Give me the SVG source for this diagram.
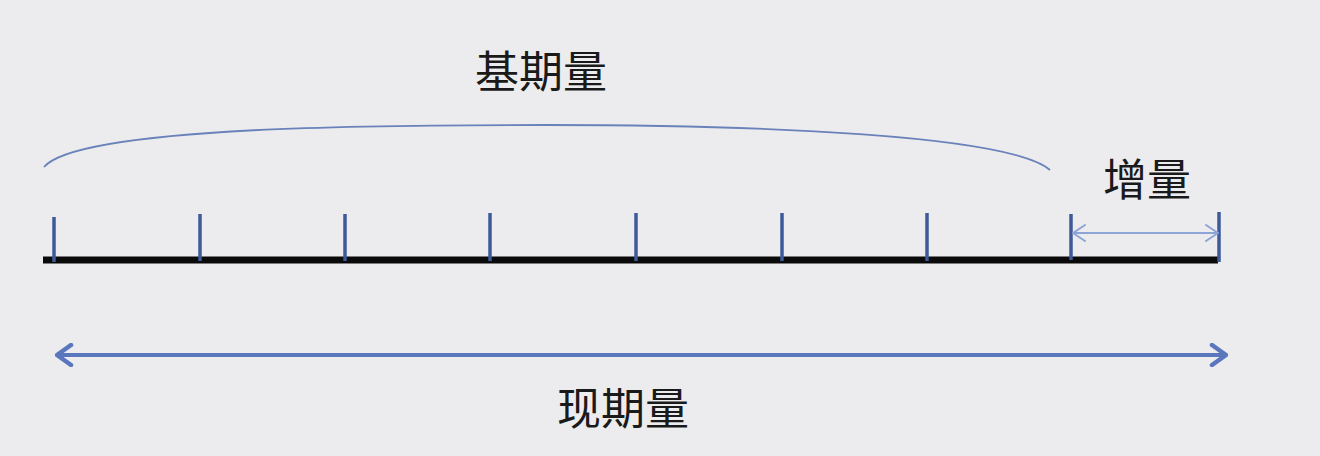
<svg xmlns="http://www.w3.org/2000/svg" width="1320" height="456" viewBox="0 0 1320 456">
<defs>
<style>
.lbl{font-family:"Noto Sans CJK SC","Noto Sans",sans-serif;font-size:44px;fill:#1a1a1a;text-anchor:middle}
.tick{stroke:#3d5a9a;stroke-width:3.5;stroke-linecap:butt}
</style>
<marker id="chev" viewBox="0 0 20 24" refX="18" refY="12" markerWidth="20" markerHeight="24" markerUnits="userSpaceOnUse" orient="auto-start-reverse">
<path d="M4,2 L18,12 L4,22" fill="none" stroke="#5a76bd" stroke-width="4.5" stroke-linecap="round" stroke-linejoin="round"/>
</marker>
<marker id="chevs" viewBox="0 0 16 20" refX="15" refY="10" markerWidth="16" markerHeight="20" markerUnits="userSpaceOnUse" orient="auto-start-reverse">
<path d="M3,2 L15,10 L3,18" fill="none" stroke="#8ea4d6" stroke-width="2" stroke-linecap="round" stroke-linejoin="round"/>
</marker>
</defs>
<rect width="1320" height="456" fill="#ececee"/>
<g id="baseline">
<line x1="43" y1="260" x2="1218" y2="260" stroke="#0a0a0a" stroke-width="7"/>
<line class="tick" x1="54" y1="217" x2="54" y2="262"/>
<line class="tick" x1="200" y1="214" x2="200" y2="261"/>
<line class="tick" x1="345" y1="214" x2="345" y2="261"/>
<line class="tick" x1="490" y1="213" x2="490" y2="261"/>
<line class="tick" x1="636" y1="213" x2="636" y2="261"/>
<line class="tick" x1="782" y1="213" x2="782" y2="261"/>
<line class="tick" x1="927" y1="213" x2="927" y2="261"/>
<line class="tick" x1="1071" y1="214" x2="1071" y2="260"/>
<line class="tick" x1="1219" y1="212" x2="1219" y2="262"/>
</g>
<g id="connectors">
<path d="M44,167 C80,125 400,125 545,125 C760,125 1010,135 1050,170" fill="none" stroke="#6a82ba" stroke-width="1.8"/>
<line x1="1073" y1="233" x2="1218" y2="233" stroke="#8ea4d6" stroke-width="2" marker-start="url(#chevs)" marker-end="url(#chevs)"/>
<line x1="57" y1="355" x2="1226" y2="355" stroke="#5a76bd" stroke-width="4" marker-start="url(#chev)" marker-end="url(#chev)"/>
</g>
<g id="label-base"><text class="lbl" x="541" y="88">基期量</text></g>
<g id="label-inc"><text class="lbl" x="1147" y="196">增量</text></g>
<g id="label-cur"><text class="lbl" x="623" y="425">现期量</text></g>
</svg>
